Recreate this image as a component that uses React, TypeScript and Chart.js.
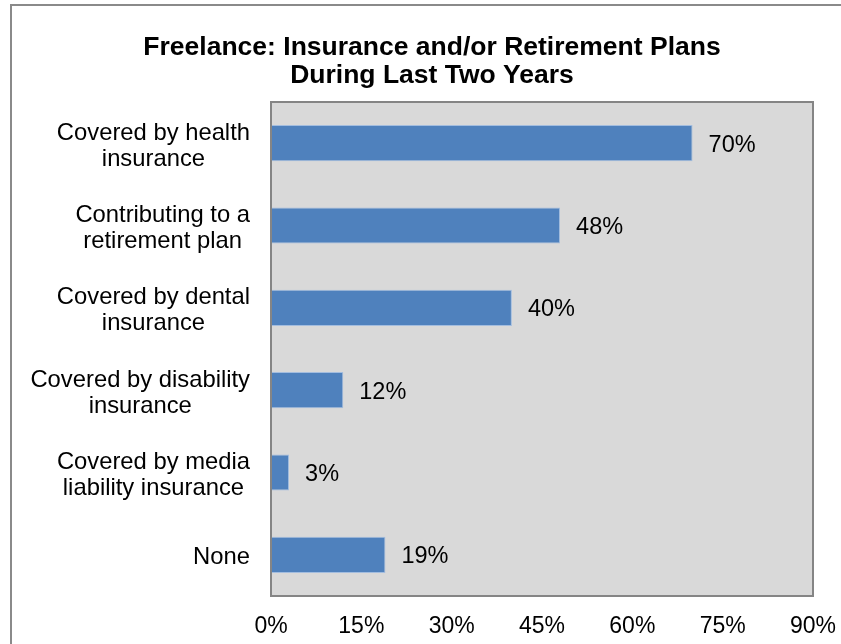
import React, { useEffect, useRef } from "react";
import { Chart, registerables } from "chart.js";

Chart.register(...registerables);

const categories: string[][] = [
  ["Covered by health", "insurance"],
  ["Contributing to a", "retirement plan"],
  ["Covered by dental", "insurance"],
  ["Covered by disability", "insurance"],
  ["Covered by media", "liability insurance"],
  ["None"],
];
const values: number[] = [70, 48, 40, 12, 3, 19];
const xTicks: number[] = [0, 15, 30, 45, 60, 75, 90];
const titleLines: string[] = [
  "Freelance: Insurance and/or Retirement Plans",
  "During Last Two Years",
];

const FONT = "'Liberation Sans', Arial, sans-serif";
const LABEL_SIZE = 23.8;

const plotBg = {
  id: "plotBg",
  beforeDraw(chart: any) {
    const { ctx, chartArea } = chart;
    ctx.save();
    ctx.fillStyle = "#d9d9d9";
    ctx.fillRect(chartArea.left, chartArea.top, chartArea.right - chartArea.left, chartArea.bottom - chartArea.top);
    ctx.restore();
  },
  afterDraw(chart: any) {
    const { ctx, chartArea } = chart;
    ctx.save();
    ctx.strokeStyle = "#858585";
    ctx.lineWidth = 2;
    ctx.strokeRect(chartArea.left, chartArea.top, chartArea.right - chartArea.left, chartArea.bottom - chartArea.top);
    ctx.restore();
  },
};

const titleDraw = {
  id: "titleDraw",
  afterDraw(chart: any) {
    const { ctx, width } = chart;
    ctx.save();
    ctx.fillStyle = "#000";
    ctx.font = `bold 26.5px ${FONT}`;
    ctx.textAlign = "center";
    ctx.textBaseline = "middle";
    titleLines.forEach((line, i) => {
      ctx.fillText(line, width / 2, 43.5 + i * 28);
    });
    ctx.restore();
  },
};

const yLabels = {
  id: "yLabels",
  afterDraw(chart: any) {
    const { ctx } = chart;
    const yScale = chart.scales.y;
    const rightEdge = chart.chartArea.left - 21;
    ctx.save();
    ctx.fillStyle = "#000";
    ctx.font = `${LABEL_SIZE}px ${FONT}`;
    ctx.textAlign = "center";
    ctx.textBaseline = "middle";
    categories.forEach((lines, i) => {
      const cy = yScale.getPixelForTick(i) + 3;
      const w = Math.max(...lines.map((l) => ctx.measureText(l).width));
      const cx = rightEdge - w / 2;
      const lh = 26;
      const start = cy - ((lines.length - 1) * lh) / 2;
      lines.forEach((l, j) => ctx.fillText(l, cx, start + j * lh));
    });
    ctx.restore();
  },
};

const barLabels = {
  id: "barLabels",
  afterDatasetsDraw(chart: any) {
    const { ctx } = chart;
    const meta = chart.getDatasetMeta(0);
    ctx.save();
    ctx.fillStyle = "#000";
    ctx.font = `23.5px ${FONT}`;
    ctx.textAlign = "left";
    ctx.textBaseline = "middle";
    meta.data.forEach((bar: any, i: number) => {
      ctx.fillText(`${values[i]}%`, bar.x + 16, bar.y + 2);
    });
    ctx.restore();
  },
};

export default function App() {
  const ref = useRef<HTMLCanvasElement | null>(null);
  useEffect(() => {
    if (!ref.current) return;
    const chart = new Chart(ref.current, {
      type: "bar",
      data: {
        labels: categories.map((c) => c.join(" ")),
        datasets: [
          {
            data: values,
            backgroundColor: "#4f81bd",
            borderColor: "#a3bddf",
            borderWidth: 1,
            categoryPercentage: 1,
            barPercentage: 0.44,
          },
        ],
      },
      options: {
        indexAxis: "y",
        animation: false,
        responsive: false,
        maintainAspectRatio: false,
        layout: { padding: { top: 98, left: 0, right: 41, bottom: 0 } },
        plugins: {
          legend: { display: false },
          tooltip: { enabled: false },
          title: { display: false },
        },
        scales: {
          x: {
            min: 0,
            max: 90,
            afterBuildTicks(scale: any) {
              scale.ticks = xTicks.map((v) => ({ value: v }));
            },
            afterFit(scale: any) {
              scale.height = 60;
            },
            ticks: {
              stepSize: 15,
              color: "#000",
              padding: 17,
              font: { family: FONT, size: 23 },
              callback: (v: any) => `${v}%`,
              maxRotation: 0,
              autoSkip: false,
            },
            grid: { display: false, drawTicks: false },
            border: { display: false },
          },
          y: {
            afterFit(scale: any) {
              scale.width = 261;
            },
            ticks: { display: false },
            grid: { display: false, drawTicks: false },
            border: { display: false },
          },
        },
      },
      plugins: [plotBg, titleDraw, yLabels, barLabels],
    });
    return () => chart.destroy();
  }, []);

  return (
    <div style={{ position: "fixed", left: 0, top: 0, width: 841, height: 644, overflow: "hidden", background: "#fff" }}>
      <div
        style={{
          position: "absolute",
          left: 10,
          top: 4,
          width: 900,
          height: 700,
          borderTop: "2px solid #8a8a8a",
          borderLeft: "2px solid #8a8a8a",
        }}
      />
      <canvas
        ref={ref}
        width={844}
        height={652}
        style={{ position: "absolute", left: 10, top: 4, width: 844, height: 652 }}
      />
    </div>
  );
}
